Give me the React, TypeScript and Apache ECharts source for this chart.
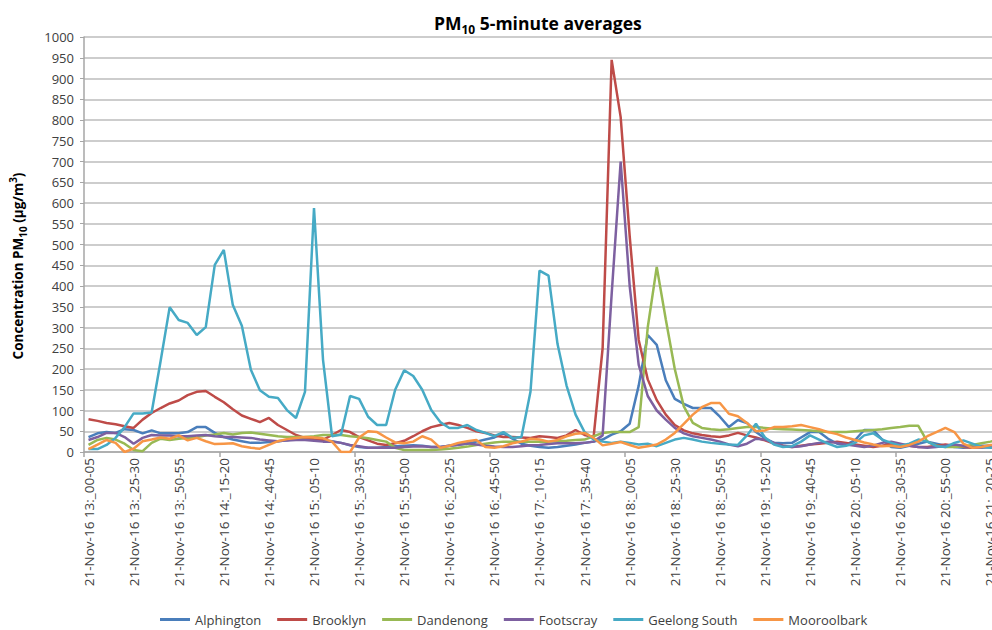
import React, { useEffect, useRef } from "react";
import * as echarts from "echarts";

const pad = (n: number) => (n < 10 ? "0" + n : "" + n);
const buildCategories = (count: number) => {
  const out: string[] = [];
  for (let i = 0; i < count; i++) {
    const m = 13 * 60 + 5 * i;
    const h = Math.floor(m / 60);
    const mm = m % 60;
    const mm2 = (mm + 5) % 60;
    out.push(`21-Nov-16 ${h}:_${pad(mm)}-${pad(mm2)}`);
  }
  return out;
};
const categories = buildCategories(102);

const seriesNames = ["Alphington", "Brooklyn", "Dandenong", "Footscray", "Geelong South", "Mooroolbark"];
const seriesColors = ["#4a7ebb", "#be4b48", "#98b954", "#7d60a0", "#46aac5", "#f79646"];

const alphington = [
  36, 45, 48, 46, 55, 53, 45, 52, 45, 45,
  45, 48, 60, 60, 46, 36, 30, 26, 22, 22,
  24, 26, 28, 32, 34, 30, 28, 26, 22, 16,
  12, 10, 10, 12, 14, 15, 16, 15, 12, 12,
  15, 18, 20, 25, 30, 35, 45, 32, 20, 15,
  12, 10, 12, 15, 18, 22, 25, 30, 42, 50,
  68, 160, 282, 258, 173, 128, 116, 106, 106, 106,
  85, 60, 77, 70, 48, 33, 22, 21, 22, 35,
  48, 48, 32, 20, 17, 29, 53, 53, 30, 12,
  10, 15, 20, 25, 20, 15, 12, 10, 12, 15,
  15, 15,
];
const brooklyn = [
  79, 75, 70, 67, 62, 58, 78, 94, 106, 117,
  124, 137, 145, 147, 133, 120, 103, 88, 80, 72,
  82, 65, 53, 41, 34, 30, 29, 41, 53, 48,
  36, 28, 20, 17, 21, 27, 38, 50, 60, 65,
  70, 65, 58, 50, 46, 40, 36, 36, 35, 34,
  38, 36, 34, 40, 53, 41, 36, 250, 945, 807,
  520, 270, 175, 125, 90, 65, 52, 45, 41, 38,
  36, 40, 46, 40, 35, 28, 20, 15, 12, 15,
  18, 20, 22, 25, 22, 18, 15, 12, 15, 20,
  18, 15, 12, 12, 15, 18, 15, 12, 10, 12,
  15, 15,
];
const dandenong = [
  17, 29, 34, 30, 20, 5, 2, 22, 32, 29,
  32, 34, 36, 40, 42, 46, 42, 46, 47, 44,
  41, 38, 36, 36, 36, 38, 41, 41, 41, 38,
  36, 33, 29, 25, 10, 5, 5, 5, 5, 6,
  8, 10, 13, 17, 20, 23, 25, 25, 25, 25,
  25, 25, 26, 27, 29, 30, 38, 46, 48, 48,
  48, 60, 300, 446, 320, 200, 110, 70, 58, 55,
  53, 55, 58, 60, 60, 58, 56, 55, 54, 53,
  52, 50, 48, 48, 48, 50, 52, 53, 55, 58,
  60, 63, 63, 25, 15, 12, 12, 14, 17, 21,
  25, 30,
];
const footscray = [
  29, 36, 46, 46, 36, 20, 34, 41, 40, 40,
  38, 38, 40, 41, 38, 36, 36, 35, 34, 30,
  28, 26, 28, 29, 29, 27, 25, 25, 22, 17,
  14, 10, 10, 10, 10, 12, 13, 14, 12, 12,
  15, 17, 21, 18, 15, 13, 12, 12, 14, 16,
  17, 19, 21, 21, 21, 22, 25, 40, 380, 700,
  400, 210, 135, 100, 78, 58, 45, 38, 34, 30,
  25, 18, 14, 20, 32, 30, 22, 14, 12, 14,
  18, 22, 25, 22, 18, 15, 12, 15, 22, 25,
  20, 15, 12, 10, 12, 15, 18, 15, 12, 10,
  12, 12,
];
const geelongSouth = [
  7, 7, 17, 34, 60, 93, 93, 95, 220, 349,
  318, 311, 282, 301, 451, 487, 354, 304, 198, 149,
  133, 130, 101, 82, 145, 588, 222, 38, 42, 135,
  128, 85, 65, 65, 150, 197, 183, 150, 101, 72,
  58, 58, 65, 53, 46, 38, 48, 34, 36, 145,
  437, 425, 260, 160, 90, 48, 30, 25, 22, 25,
  22, 18, 20, 14, 22, 30, 34, 30, 25, 22,
  20, 18, 17, 40, 68, 35, 18, 12, 14, 25,
  40, 30, 20, 12, 15, 22, 40, 45, 30, 22,
  15, 20, 30, 25, 14, 12, 22, 28, 20, 12,
  10, 10,
];
const mooroolbark = [
  7, 18, 29, 22, 0, 8, 26, 30, 35, 32,
  40, 28, 34, 26, 19, 20, 21, 14, 10, 8,
  17, 26, 31, 34, 36, 35, 33, 25, 0, 0,
  35, 50, 48, 35, 23, 21, 25, 38, 30, 10,
  15, 22, 26, 29, 12, 10, 14, 21, 25, 32,
  30, 25, 29, 38, 44, 46, 34, 16, 20, 24,
  17, 10, 14, 18, 30, 46, 68, 90, 108, 118,
  118, 92, 86, 70, 50, 52, 60, 60, 62, 65,
  60, 55, 48, 43, 35, 29, 23, 18, 14, 15,
  12, 17, 25, 38, 48, 58, 48, 20, 10, 12,
  17, 17,
];
const seriesData = [alphington, brooklyn, dandenong, footscray, geelongSouth, mooroolbark];

const FONT = "Open Sans";
const TEXT = "#404040";

export default function App() {
  const ref = useRef<HTMLDivElement>(null);
  useEffect(() => {
    document.body.style.margin = "0";
    if (!ref.current) return;
    const chart = echarts.init(ref.current, null, { renderer: "svg" });
    chart.setOption({
      animation: false,
      backgroundColor: "#ffffff",
      textStyle: { fontFamily: FONT },
      title: {
        text: "{a|PM}{s|10}{a| 5-minute averages}",
        left: 429,
        top: 6,
        textStyle: {
          rich: {
            a: { fontSize: 17.5, fontWeight: "bold", fontFamily: FONT, color: "#000", lineHeight: 24 },
            s: { fontSize: 12, fontWeight: "bold", fontFamily: FONT, color: "#000", lineHeight: 24, verticalAlign: "bottom" },
          },
        },
      },
      graphic: [
        {
          type: "text",
          x: 18,
          y: 266,
          rotation: Math.PI / 2,
          style: {
            text: "{b|Concentration PM}{s|10}{b| (µg/m}{p|3}{b|)}",
            align: "center",
            verticalAlign: "middle",
            rich: {
              b: { fontSize: 13.5, fontWeight: "bold", fontFamily: FONT, fill: "#000", lineHeight: 20 },
              s: { fontSize: 10, fontWeight: "bold", fontFamily: FONT, fill: "#000", lineHeight: 20, verticalAlign: "bottom" },
              p: { fontSize: 10, fontWeight: "bold", fontFamily: FONT, fill: "#000", lineHeight: 20, verticalAlign: "top" },
            },
          },
        },
      ],
      legend: {
        data: seriesNames,
        icon: "rect",
        left: 160,
        top: 613,
        padding: 0,
        itemWidth: 30,
        itemHeight: 3,
        itemGap: 16,
        textStyle: { fontSize: 13, color: TEXT, fontFamily: FONT },
      },
      grid: {
        left: 84,
        top: 37,
        width: 920,
        height: 415,
        containLabel: false,
        outerBoundsMode: "none",
      },
      xAxis: {
        type: "category",
        data: categories,
        boundaryGap: true,
        axisLine: { show: true, lineStyle: { color: "#a6a6a6", width: 1.5 } },
        axisTick: { show: true, interval: 14, length: 5, lineStyle: { color: "#a6a6a6", width: 1.5 } },
        axisLabel: { interval: 4, rotate: 90, fontSize: 13.5, color: TEXT, margin: 6, fontFamily: FONT },
        splitLine: { show: false },
      },
      yAxis: {
        type: "value",
        min: 0,
        max: 1000,
        interval: 50,
        axisLine: { show: true, lineStyle: { color: "#a6a6a6", width: 1.5 } },
        axisTick: { show: true, length: 4, lineStyle: { color: "#a6a6a6" } },
        axisLabel: { fontSize: 13, color: TEXT, margin: 10, fontFamily: FONT, formatter: (v: number) => String(v) },
        splitLine: { show: true, lineStyle: { color: "#bdbdbd", width: 1.5 } },
      },
      series: seriesNames.map((name, k) => ({
        name,
        type: "line",
        data: seriesData[k],
        symbol: "none",
        showSymbol: false,
        smooth: false,
        color: seriesColors[k],
        itemStyle: { color: seriesColors[k] },
        lineStyle: { width: 2.5, color: seriesColors[k] },
      })),
    });
    return () => chart.dispose();
  }, []);
  return <div ref={ref} style={{ width: 992, height: 630 }} />;
}
